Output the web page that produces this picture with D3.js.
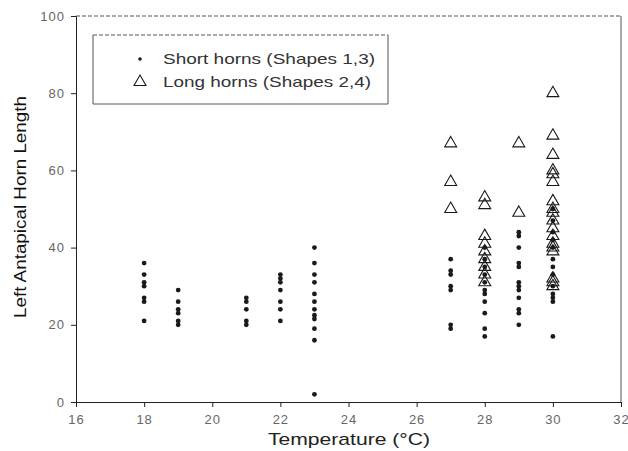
<!DOCTYPE html>
<html>
<head>
<meta charset="utf-8">
<script src="https://cdn.jsdelivr.net/npm/d3@7"></script>
<style>
  body { margin: 0; background: #fff; }
  svg { font-family: "Liberation Sans", Arial, sans-serif; }
</style>
</head>
<body>
<div id="chart"></div>
<script>
// horn length vs temperature - two groups of shapes
const xTicks = [16, 18, 20, 22, 24, 26, 28, 30, 32];
const yTicks = [0, 20, 40, 60, 80, 100];

// short horns (shapes 1,3): one row per temperature
const shortHorns = [
  [18, [36, 33, 31, 30, 27, 26, 21]],
  [19, [29, 26, 24, 23, 21, 20]],
  [21, [27, 26, 24, 21, 20]],
  [22, [33, 32, 31, 29, 26, 24, 21]],
  [23, [40, 36, 33, 31, 28, 26, 24, 22.5, 21.5, 19, 16, 2]],
  [27, [37, 34, 33, 30, 29, 20, 19]],
  [28, [40, 37, 35, 33, 31, 29, 28, 26, 23, 19, 17]],
  [29, [44, 43, 40, 36, 35, 31, 30, 29, 27, 24, 23, 20]],
  [30, [50, 47, 44, 42, 40, 37, 35, 33, 30, 28, 27, 26, 17]]
];

// long horns (shapes 2,4)
const longHorns = [
  [27, [67, 57, 50]],
  [28, [53, 51, 43, 41, 39, 37, 35, 33, 31]],
  [29, [67, 49]],
  [30, [80, 69, 64, 60, 59, 57, 52, 50, 49, 47, 45, 43, 41, 40, 39, 32, 31, 30]]
];

const legendLabels = ['Short horns (Shapes 1,3)', 'Long horns (Shapes 2,4)'];

const width = 628, height = 451;
const margin = { top: 16, right: 7, bottom: 49, left: 76 };
const w = width - margin.left - margin.right;
const h = height - margin.top - margin.bottom;

const svg = d3.select('#chart').append('svg')
  .attr('width', width)
  .attr('height', height);

const g = svg.append('g')
  .attr('transform', `translate(${margin.left},${margin.top})`);

const x = d3.scaleLinear().domain([16, 32]).range([0, w]);
const y = d3.scaleLinear().domain([0, 100]).range([h, 0]);

// frame: top dashed, right solid
g.append('line')
  .attr('x1', 0).attr('x2', w).attr('y1', 0).attr('y2', 0)
  .attr('stroke', '#555').attr('stroke-dasharray', '4,2');
g.append('line')
  .attr('x1', w).attr('x2', w).attr('y1', 0).attr('y2', h)
  .attr('stroke', '#555');

// assi
const xAxis = g.append('g')
  .attr('transform', `translate(0,${h})`)
  .call(d3.axisBottom(x).tickValues(xTicks).tickSize(5).tickPadding(8));
const yAxis = g.append('g')
  .call(d3.axisLeft(y).tickValues(yTicks).tickSize(5).tickPadding(6));

[xAxis, yAxis].forEach(a => {
  a.select('.domain').attr('stroke', '#222');
  a.selectAll('.tick line').attr('stroke', '#222');
  a.selectAll('.tick text')
    .attr('fill', '#666')
    .style('font-size', '13px')
    .style('letter-spacing', '1px');
});

// punti: short horns
const dots = shortHorns.flatMap(([t, vals]) => vals.map(v => ({ t, v })));
g.append('g').selectAll('circle')
  .data(dots)
  .join('circle')
  .attr('cx', d => x(d.t))
  .attr('cy', d => y(d.v))
  .attr('r', 2.4)
  .attr('fill', '#1a1a1a');

// triangoli: long horns
const tri = d3.symbol().type(d3.symbolTriangle).size(62);
const tris = longHorns.flatMap(([t, vals]) => vals.map(v => ({ t, v })));
g.append('g').selectAll('path')
  .data(tris)
  .join('path')
  .attr('d', tri)
  .attr('transform', d => `translate(${x(d.t)},${y(d.v)})`)
  .attr('fill', 'none')
  .attr('stroke', '#1a1a1a')
  .attr('stroke-width', 1.1);

// titoli assi (testo un po' allargato come nell'originale)
svg.append('text')
  .attr('x', 268)
  .attr('y', 445)
  .attr('textLength', 162)
  .attr('lengthAdjust', 'spacingAndGlyphs')
  .style('font-size', '17px')
  .attr('fill', '#222')
  .text('Temperature (°C)');

svg.append('text')
  .attr('transform', `translate(26,318) rotate(-90)`)
  .attr('textLength', 222)
  .attr('lengthAdjust', 'spacingAndGlyphs')
  .style('font-size', '17px')
  .attr('fill', '#111')
  .text('Left Antapical Horn Length');

// legenda
const lg = svg.append('g').attr('transform', 'translate(93,35)');
const lw = 295, lh = 69;
lg.append('line').attr('x1', 0).attr('x2', lw).attr('y1', 0).attr('y2', 0)
  .attr('stroke', '#555').attr('stroke-dasharray', '4,2');
lg.append('path')
  .attr('d', `M0,0V${lh}H${lw}V0`)
  .attr('fill', 'none').attr('stroke', '#555');

lg.append('circle').attr('cx', 47).attr('cy', 24).attr('r', 1.8).attr('fill', '#1a1a1a');
lg.append('path').attr('d', tri)
  .attr('transform', 'translate(47,47)')
  .attr('fill', 'none').attr('stroke', '#1a1a1a').attr('stroke-width', 1.1);

const legendLen = [212, 208];
legendLabels.forEach((lab, i) => {
  lg.append('text')
    .attr('x', 70)
    .attr('y', 29 + i * 23)
    .attr('textLength', legendLen[i])
    .attr('lengthAdjust', 'spacingAndGlyphs')
    .style('font-size', '15px')
    .attr('fill', '#333')
    .text(lab);
});
</script>
</body>
</html>
